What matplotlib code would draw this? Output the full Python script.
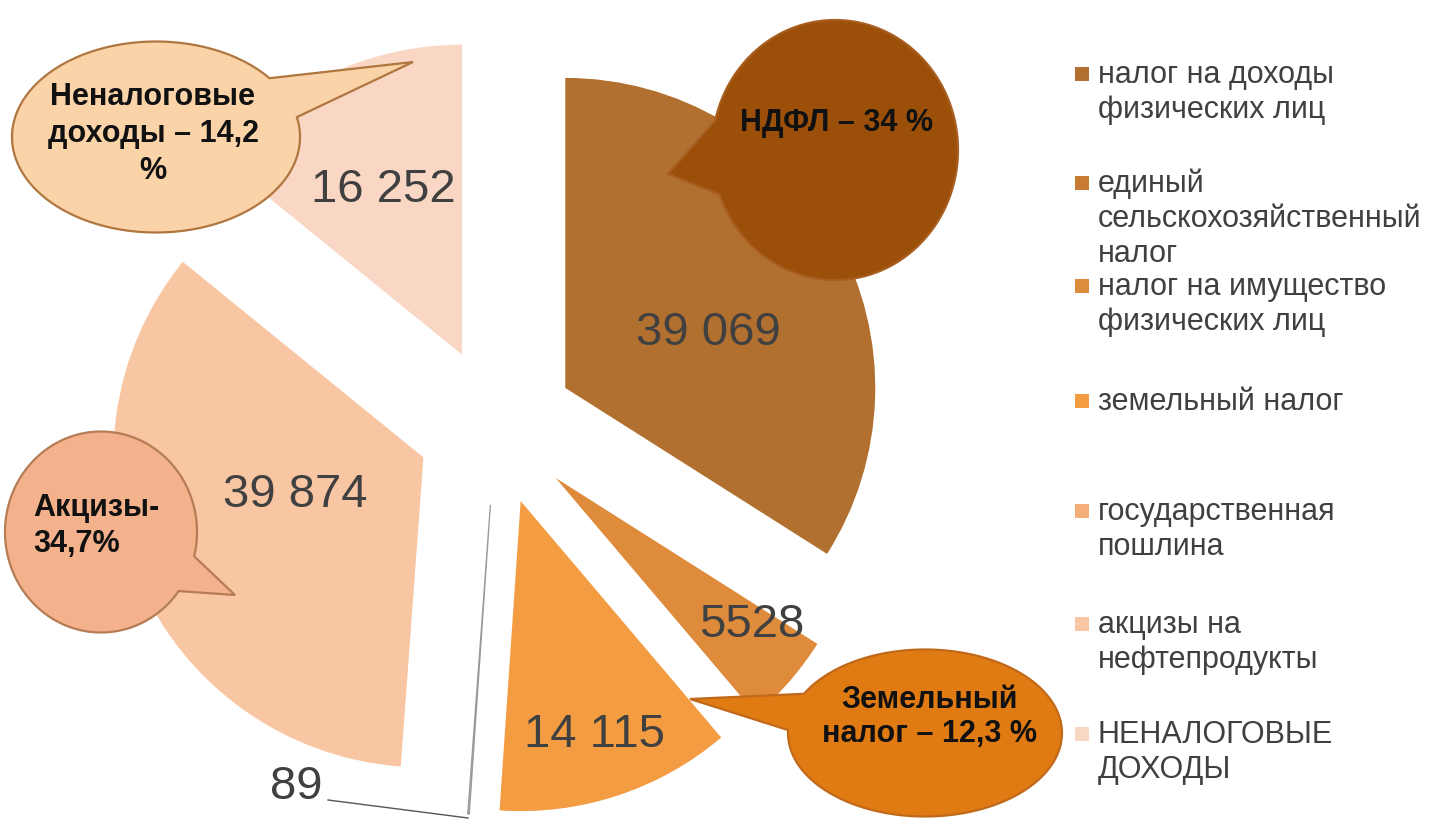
import numpy as np
import matplotlib
matplotlib.use('Agg')
import matplotlib.pyplot as plt
from matplotlib.patches import Polygon

plt.rcParams['font.family'] = ['Liberation Sans', 'DejaVu Sans']

# ---------------- data ----------------
categories = ['налог на доходы\nфизических лиц',
              'единый\nсельскохозяйственный\nналог',
              'налог на имущество\nфизических лиц',
              'земельный налог',
              'государственная\nпошлина',
              'акцизы на\nнефтепродукты',
              'НЕНАЛОГОВЫЕ\nДОХОДЫ']
values = [39069, 0, 5528, 14115, 89, 39874, 16252]
value_labels = ['39 069', '', '5528', '14 115', '89', '39 874', '16 252']
colors = ['#B1702F', '#C77B33', '#DE8B3C', '#F39C42', '#F5AE7A', '#F8C6A3', '#F9D7C4']
callout_texts = ['Неналоговые\nдоходы – 14,2\n%', 'НДФЛ – 34 %', 'Акцизы-\n34,7%', 'Земельный\nналог – 12,3 %']

# ---------------- layout ----------------
W, H = 1444, 821
fig = plt.figure(figsize=(W / 100, H / 100), dpi=100)
CX, CY, R = 496, 426, 310   # pie centre / radius in pixels (y from top)

axp = fig.add_axes([0, 0, 1, 1])
wedges, _ = axp.pie(values, colors=colors, startangle=90, counterclock=False,
                    explode=[0.255] * len(values), radius=1, center=(0, 0),
                    wedgeprops=dict(linewidth=0))
axp.set_xlim(-CX / R, (W - CX) / R)
axp.set_ylim(-(H - CY) / R, CY / R)
axp.set_aspect('auto')
axp.axis('off')
wedges[4].set_edgecolor('#9A9A9A')
wedges[4].set_linewidth(0.9)

ax = fig.add_axes([0, 0, 1, 1])
ax.set_xlim(0, W)
ax.set_ylim(H, 0)
ax.axis('off')
ax.patch.set_alpha(0)

# value labels
label_pos = {0: (708, 333), 2: (752, 625), 3: (595, 735), 4: (296, 787),
             5: (295, 495), 6: (383, 190)}
for i, (x, y) in label_pos.items():
    ax.text(x, y, value_labels[i], fontsize=34, color='#404040',
            ha='center', va='center', zorder=5)
# leader line for the tiny slice
ax.plot([328, 468], [800, 818], color='#555555', lw=1.0, zorder=5)


# speech bubbles
def bubble(cx, cy, w, h, t1, t2, tip, fc, ec):
    a, b = w / 2, h / 2
    ts = np.radians(np.linspace(t2, t1 + 360, 200))
    pts = list(zip(cx + a * np.cos(ts), cy + b * np.sin(ts)))
    pts.append(tip)
    ax.add_patch(Polygon(pts, closed=True, facecolor=fc, edgecolor=ec,
                         lw=1.6, zorder=6))


bubble(156, 137, 288, 191, -38, -12, (413, 62), '#FAD3A8', '#B0763F')
ax.text(153, 134, callout_texts[0], fontsize=22, fontweight='bold', color='#111111',
        ha='center', va='center', linespacing=1.3, zorder=7)

bubble(835, 150, 246, 260, 160, 193, (668, 174), '#9C4F08', '#A85E20')
ax.text(837, 123, callout_texts[1], fontsize=22, fontweight='bold', color='#111111',
        ha='center', va='center', zorder=7)

bubble(101, 532, 192, 201, 14, 36, (235, 595), '#F4B28C', '#B57C55')
ax.text(33, 526, callout_texts[2], fontsize=22, fontweight='bold', color='#111111',
        ha='left', va='center', linespacing=1.3, zorder=7)

bubble(925, 733, 274, 167, 182, 208, (690, 699), '#E07A12', '#C0691A')
ax.text(930, 717, callout_texts[3], fontsize=22, fontweight='bold', color='#111111',
        ha='center', va='center', linespacing=1.15, zorder=7)

# legend (manual, matching the uneven spacing)
legend_baselines = [83, 192, 295, 410, 520, 633, 743]
for i, lab in enumerate(categories):
    yb = legend_baselines[i]
    ax.plot([1082], [yb - 9], marker='s', markersize=10, color=colors[i],
            markeredgewidth=0, zorder=5)
    for j, line in enumerate(lab.split('\n')):
        ax.text(1098, yb + j * 35, line, fontsize=22, color='#404040',
                ha='left', va='baseline', zorder=5)

fig.savefig('out.png', dpi=100)
